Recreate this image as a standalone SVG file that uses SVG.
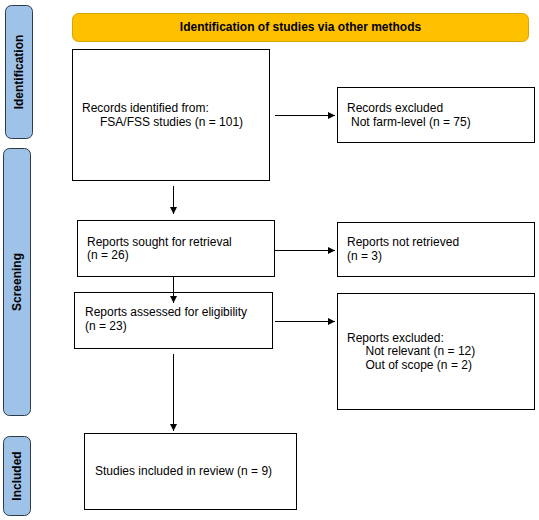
<svg xmlns="http://www.w3.org/2000/svg" width="539" height="520" viewBox="0 0 539 520">
<style>
.box{fill:#fff;stroke:#000;stroke-width:1}
.side{fill:#9FC2E8;stroke:#2E3A48;stroke-width:1}
.t{font-family:"Liberation Sans",Arial,sans-serif;font-size:12px;fill:#000}
.b{font-family:"Liberation Sans",Arial,sans-serif;font-size:12px;font-weight:bold;fill:#000}
.c{stroke:#000;stroke-width:1;fill:none;marker-end:url(#ah)}
</style>
<defs>
<marker id="ah" markerWidth="8" markerHeight="8" refX="7" refY="4" orient="auto" markerUnits="userSpaceOnUse">
<path d="M0,0.5 L7,4 L0,7.5 z" fill="#000"/>
</marker>
</defs>
<rect width="539" height="520" fill="#fff"/>
<g id="side-identification">
<rect class="side" x="5.5" y="5.5" width="27" height="133" rx="6"/>
<text class="b" transform="translate(23,72) rotate(-90)" text-anchor="middle">Identification</text>
</g>
<g id="side-screening">
<rect class="side" x="3.5" y="148.5" width="27" height="267" rx="6"/>
<text class="b" transform="translate(21,282) rotate(-90)" text-anchor="middle">Screening</text>
</g>
<g id="side-included">
<rect class="side" x="3.5" y="436.5" width="27" height="79" rx="6"/>
<text class="b" transform="translate(21,476) rotate(-90)" text-anchor="middle">Included</text>
</g>
<g id="header">
<rect x="72.5" y="13.5" width="456" height="28" rx="6" fill="#FFC000" stroke="#D9A400" stroke-width="1"/>
<text class="b" x="300.5" y="31" text-anchor="middle">Identification of studies via other methods</text>
</g>
<g id="records-identified">
<rect class="box" x="72.5" y="49.5" width="197" height="131"/>
<text class="t" x="82" y="112">Records identified from:</text>
<text class="t" x="100" y="125.5">FSA/FSS studies (n = 101)</text>
</g>
<g id="records-excluded">
<rect class="box" x="337.5" y="87.5" width="197" height="55"/>
<text class="t" x="347" y="112">Records excluded</text>
<text class="t" x="351" y="125.5">Not farm-level (n = 75)</text>
</g>
<g id="reports-sought">
<rect class="box" x="77.5" y="220.5" width="197" height="56"/>
<text class="t" x="87" y="245.5">Reports sought for retrieval</text>
<text class="t" x="87" y="259">(n = 26)</text>
</g>
<g id="reports-not-retrieved">
<rect class="box" x="337.5" y="222.5" width="197" height="54"/>
<text class="t" x="347" y="246">Reports not retrieved</text>
<text class="t" x="347" y="259.5">(n = 3)</text>
</g>
<g id="reports-assessed">
<rect class="box" x="74.5" y="292.5" width="198" height="56"/>
<text class="t" x="85" y="316">Reports assessed for eligibility</text>
<text class="t" x="85" y="330">(n = 23)</text>
</g>
<g id="reports-excluded">
<rect class="box" x="337.5" y="293.5" width="197" height="116"/>
<text class="t" x="347" y="342">Reports excluded:</text>
<text class="t" x="365.5" y="355.3">Not relevant (n = 12)</text>
<text class="t" x="365.5" y="368.6">Out of scope (n = 2)</text>
</g>
<g id="studies-included">
<rect class="box" x="84.5" y="433.5" width="212" height="76"/>
<text class="t" x="95" y="475">Studies included in review (n = 9)</text>
</g>
<g id="connectors">
<line class="c" x1="173.5" y1="186" x2="173.5" y2="214"/>
<line class="c" x1="173.5" y1="277" x2="173.5" y2="303"/>
<line class="c" x1="173.5" y1="354" x2="173.5" y2="431"/>
<line class="c" x1="275" y1="115.5" x2="335" y2="115.5"/>
<line class="c" x1="275" y1="250.5" x2="335" y2="250.5"/>
<line class="c" x1="275" y1="321.5" x2="335" y2="321.5"/>
</g>
</svg>
